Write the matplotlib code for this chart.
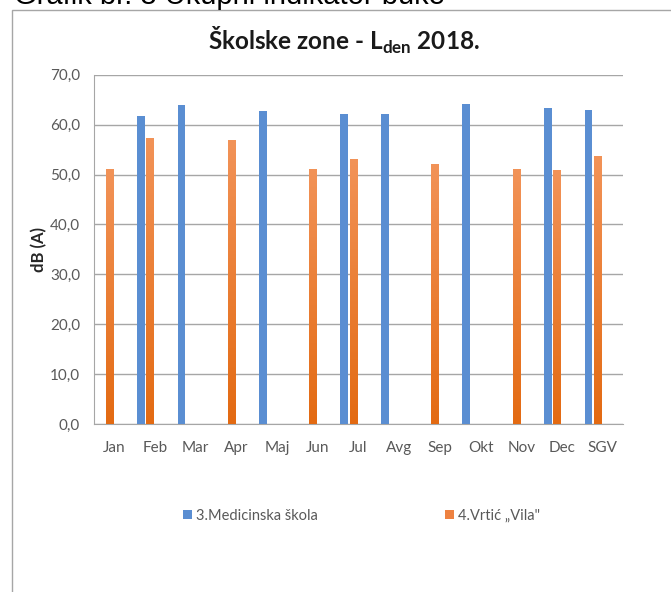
import numpy as np
import matplotlib.pyplot as plt
from matplotlib.colors import LinearSegmentedColormap
from matplotlib.patches import Rectangle

# podaci (dB(A)), nema mjerenja -> nan
mjeseci = ['Jan', 'Feb', 'Mar', 'Apr', 'Maj', 'Jun', 'Jul', 'Avg', 'Sep', 'Okt', 'Nov', 'Dec', 'SGV']
medicinska = [np.nan, 61.7, 63.9, np.nan, 62.7, np.nan, 62.2, 62.2, np.nan, 64.2, np.nan, 63.3, 63.0]
vrtic = [51.1, 57.4, np.nan, 56.9, np.nan, 51.2, 53.2, np.nan, 52.2, np.nan, 51.1, 50.9, 53.8]
yticks = [0, 10, 20, 30, 40, 50, 60, 70]

plt.rcParams['font.family'] = ['Lato', 'DejaVu Sans']
plt.rcParams['mathtext.fontset'] = 'custom'
plt.rcParams['mathtext.rm'] = 'Lato:bold'

plava = '#5A8ED2'
narandzasta = '#EE8241'
siva = '#595959'

fig = plt.figure(figsize=(6.71, 5.92), dpi=100)
ax = fig.add_axes([94 / 671, 1 - 424 / 592, 529 / 671, 349.3 / 592])

# okvir grafikona
fig.patches.append(Rectangle((12 / 671, -0.1), 1.2, 1 - 10 / 592 + 0.1, transform=fig.transFigure,
                             fill=False, edgecolor='#a6a6a6', linewidth=1.0))
# naslov iznad (odsjecen na vrhu, kao u izvorniku)
fig.text(14 / 671, 1 - 4 / 592, 'Grafik br. 3 Ukupni indikator buke', fontsize=21,
         family='Liberation Sans', va='baseline', ha='left')

x = np.arange(len(mjeseci))
w = 0.19
b1 = ax.bar(x - 0.35, medicinska, w, color=plava, label='3.Medicinska škola', zorder=3)
b2 = ax.bar(x - 0.12, vrtic, w, color=narandzasta, label='4.Vrtić „Vila"', zorder=3)

# gradijent na narandzastim stubovima
cmap = LinearSegmentedColormap.from_list('nar', ['#E36A12', '#F29358'])
grad = np.linspace(0, 1, 256).reshape(-1, 1)
for bar, v in zip(b2, vrtic):
    if np.isnan(v):
        continue
    x0, w0 = bar.get_x(), bar.get_width()
    im = ax.imshow(grad, cmap=cmap, extent=[x0, x0 + w0, 0, v], origin='lower',
                   aspect='auto', zorder=4)
    im.set_clip_path(bar)

ax.set_xlim(-0.5, len(mjeseci) - 0.5)
ax.set_ylim(0, 70)
ax.set_yticks(yticks)
ax.set_yticklabels([f'{t:.1f}'.replace('.', ',') for t in yticks], fontsize=11, color=siva)
ax.set_xticks(x)
ax.set_xticklabels(mjeseci, fontsize=11, color=siva)
ax.tick_params(length=0, pad=12)
ax.tick_params(axis='y', pad=10)
ax.grid(axis='y', color='#a6a6a6', linewidth=1.0, zorder=0)
ax.set_axisbelow(True)
for s in ['top', 'right']:
    ax.spines[s].set_visible(False)
ax.spines['left'].set_color('#a6a6a6')
ax.spines['bottom'].set_color('#a6a6a6')
ax.set_ylabel('dB (A)', fontsize=12, fontweight='bold', color='#262626', labelpad=2)

fig.text(344 / 671, 1 - 50 / 592, 'Školske zone - L$_{\\mathrm{den}}$ 2018.', fontsize=17.5,
         fontweight='bold', ha='center', va='baseline', color='#1a1a1a')

fig.legend(handles=[b1, b2], loc='center left', bbox_to_anchor=(170 / 671, 1 - 516 / 592),
           ncol=2, frameon=False, fontsize=10.5, handlelength=0.6, handleheight=0.6,
           handletextpad=0.3, columnspacing=8.7, labelcolor=siva)

fig.savefig('out.png', dpi=100)
